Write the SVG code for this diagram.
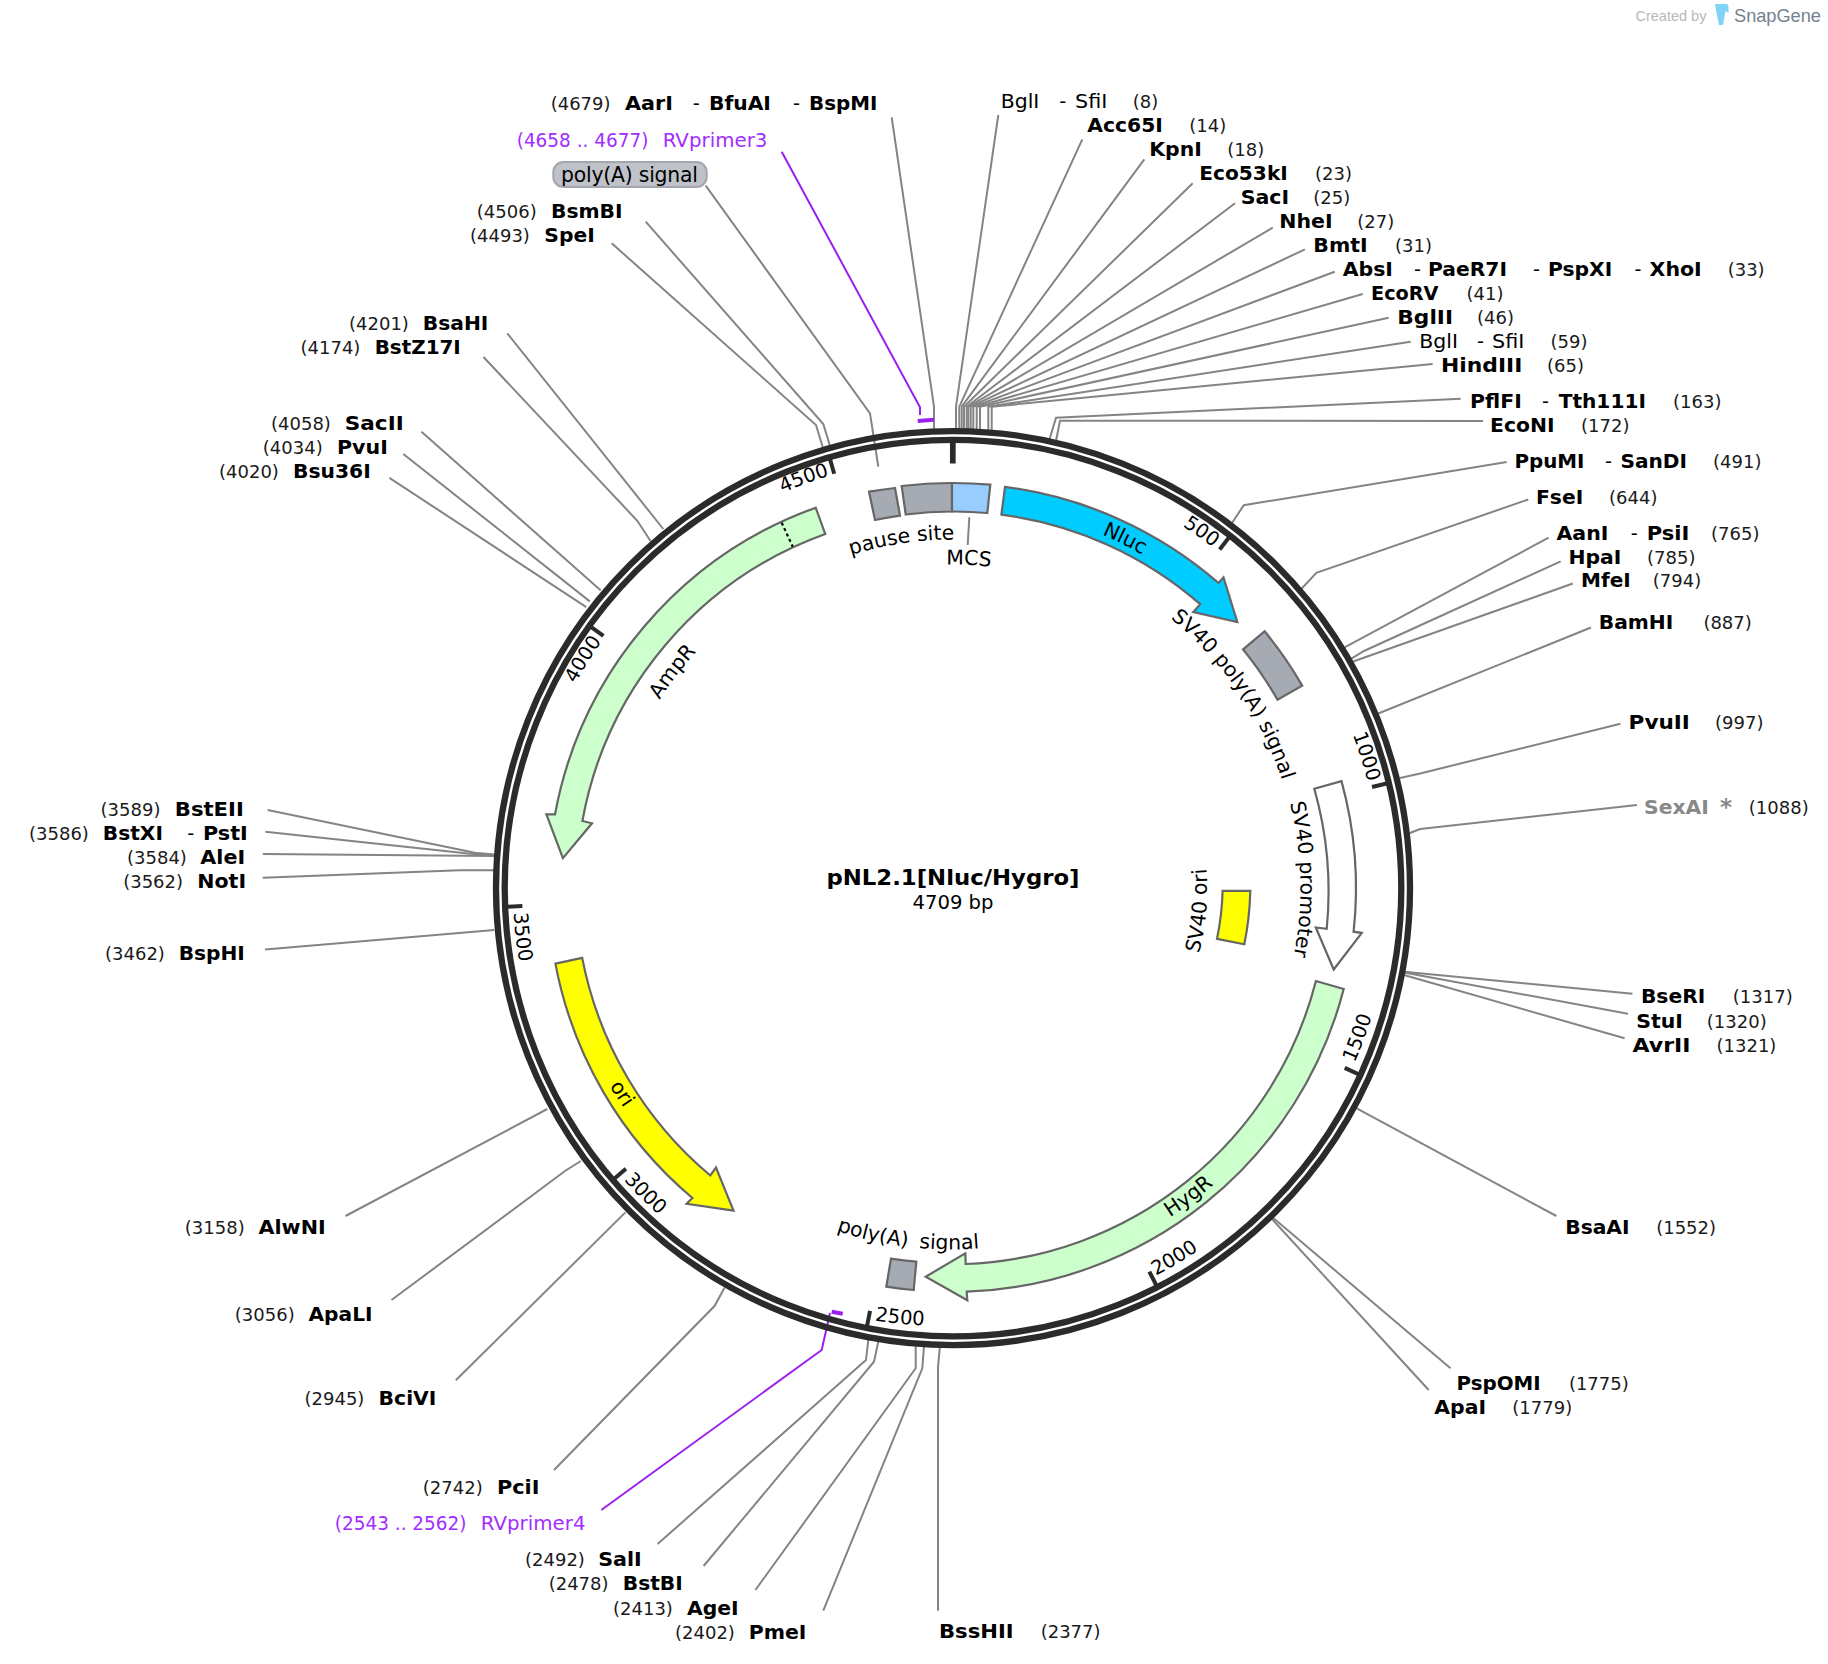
<svg xmlns="http://www.w3.org/2000/svg" width="1828" height="1664" viewBox="0 0 1828 1664">
<style>
text{font-family:"DejaVu Sans","Verdana",sans-serif;fill:#000}
.b{font-weight:700;font-size:19.4px}
.r{font-size:18px;fill:#1a1a1a}
.u{font-size:19.4px}
.v{font-size:19.2px;fill:#a22dff}
.f{font-size:20.4px}
.t{font-size:19.6px}
.c{fill:none;stroke:#848484;stroke-width:2}
.pc{fill:none;stroke:#9b20f0;stroke-width:2}
.ft{stroke:#666;stroke-width:2.2;stroke-linejoin:miter}
.grey{fill:#a6abb3}
.green{fill:#ccffcc}
.tk{stroke:#2b2b2b;stroke-width:4}
</style>
<defs>
<path id="a-pause" d="M851 555A348 348 0 0 1 954 539.5"/>
<path id="a-mcs" d="M945 564.6A324 324 0 0 1 992 566.9"/>
<path id="a-nluc" d="M1099.6 533.7A383 383 0 0 1 1144.5 555.8"/>
<path id="a-spa" d="M1171.2 619A346 346 0 0 1 1281.7 779.4"/>
<path id="a-spr" d="M1289.6 802A347.4 347.4 0 0 1 1293.5 957"/>
<path id="a-sori" d="M1199 953A254 254 0 0 0 1206.5 869"/>
<path id="a-hyg" d="M1168.3 1218.3A395 395 0 0 0 1215 1183.3"/>
<path id="a-ori" d="M608.5 1084A396 396 0 0 0 625.3 1110"/>
<path id="a-amp" d="M659.5 700A346 346 0 0 1 696.5 651.7"/>
<path id="a-pa" d="M833 1229.5A361.5 361.5 0 0 0 983 1248"/>
<path id="t500" d="M1181 525A428 428 0 0 1 1214.5 548.6"/>
<path id="t1000" d="M1352.6 734.1A428 428 0 0 1 1367.9 782.5"/>
<path id="t1500" d="M1354.1 1063.6A438 438 0 0 0 1371.9 1015.6"/>
<path id="t2000" d="M1155.2 1276A438 438 0 0 0 1199.2 1249.8"/>
<path id="t2500" d="M875 1320.5A439 439 0 0 0 924 1325.5"/>
<path id="t3000" d="M623.4 1179.5A440 440 0 0 0 659.7 1215.5"/>
<path id="t3500" d="M513.7 912A440 440 0 0 0 519.6 963.1"/>
<path id="t4000" d="M575.7 683.5A429 429 0 0 1 601.6 641.4"/>
<path id="t4500" d="M784 492.3A430 430 0 0 1 828 476.1"/>
</defs>
<rect width="1828" height="1664" fill="#fff"/>

<g id="connectors">
<polyline class="c" points="891.7,117.3 934,406.7 934,430"/>
<polyline class="c" points="705.7,185.7 870,413.3 878.3,466.7"/>
<polyline class="c" points="645.7,221.7 823.3,424 830,446"/>
<polyline class="c" points="611.7,243.3 816,425 822.7,447"/>
<polyline class="c" points="507.3,333.3 663.3,529"/>
<polyline class="c" points="483.5,357 637.5,521 650.5,541"/>
<polyline class="c" points="421.5,431.8 600.6,590.3"/>
<polyline class="c" points="403.3,454 589.8,601.4"/>
<polyline class="c" points="389.4,477.8 586.3,607.2"/>
<polyline class="c" points="267.6,810 474.8,852.8 494,854.5"/>
<polyline class="c" points="265.4,831.8 470.5,853.7 494,855"/>
<polyline class="c" points="262.8,854 494,856"/>
<polyline class="c" points="262.8,877.8 459.7,870.2 494,870.2"/>
<polyline class="c" points="265,949.6 494.4,930"/>
<polyline class="c" points="345.5,1216 547.3,1109"/>
<polyline class="c" points="391.5,1300 565,1171 580.8,1161"/>
<polyline class="c" points="455.8,1380.3 625.4,1212.4"/>
<polyline class="c" points="554,1470 714.7,1305.8 724.5,1287.8"/>
<polyline class="c" points="657.6,1544 866,1360 868.3,1340"/>
<polyline class="c" points="703.6,1566 874,1361.7 878.3,1341.7"/>
<polyline class="c" points="755.4,1590 915.7,1368.3 915.7,1346"/>
<polyline class="c" points="823.3,1610.7 922.3,1368.3 924,1346"/>
<polyline class="c" points="938,1610.7 938,1366.7 940,1346"/>
<polyline class="c" points="998.3,115 956,406.7 956,430"/>
<polyline class="c" points="1082.3,139.3 959.3,406.7 959.3,430"/>
<polyline class="c" points="1144.3,159.3 961.7,406.7 961.7,430"/>
<polyline class="c" points="1192.7,183.3 964,406.7 964,430"/>
<polyline class="c" points="1235,203.3 966.7,406.7 966.7,430"/>
<polyline class="c" points="1272.7,227.7 968.3,406.7 968.3,430"/>
<polyline class="c" points="1305,249.3 970.7,406.7 970.7,430"/>
<polyline class="c" points="1334.7,271.7 973.3,406.7 973.3,430"/>
<polyline class="c" points="1362.7,294 976.7,406.7 976.7,430"/>
<polyline class="c" points="1388.7,317.7 980,406.7 980,430"/>
<polyline class="c" points="1410.7,341.7 988.3,406.7 988.3,431"/>
<polyline class="c" points="1432.7,364 991.7,406.7 991.7,431"/>
<polyline class="c" points="1460.7,398.7 1056,417.7 1049.3,440"/>
<polyline class="c" points="1483,421 1060,420.7 1056,441"/>
<polyline class="c" points="1506.7,462 1243.8,505.2 1231.3,524"/>
<polyline class="c" points="1528.3,499.5 1316.4,572.8 1301.3,589"/>
<polyline class="c" points="1548.6,537.7 1344.6,647.4"/>
<polyline class="c" points="1560.7,561.4 1364,651 1351,658.8"/>
<polyline class="c" points="1572.8,583.5 1353.2,661.5"/>
<polyline class="c" points="1591,627.5 1378.3,713.5"/>
<polyline class="c" points="1620.4,723.8 1420.2,773.5 1400,778"/>
<polyline class="c" points="1637,805 1420.2,829 1408.5,833.5"/>
<polyline class="c" points="1632.5,993.7 1404,971.7"/>
<polyline class="c" points="1627.9,1013.7 1404,972.5"/>
<polyline class="c" points="1624.6,1038.3 1404,975"/>
<polyline class="c" points="1556.4,1216 1356.7,1108.3"/>
<polyline class="c" points="1450.5,1368.3 1271.8,1216.7"/>
<polyline class="c" points="1428.7,1390 1270.8,1217.7"/>
<polyline class="pc" points="781.7,151.7 920,407.3 920,415"/>
<polyline class="pc" points="601.3,1510 821.7,1350 830,1313"/>
<line class="c" x1="969.3" y1="517.3" x2="967.7" y2="545"/>
</g>

<g id="backbone" fill="none" stroke="#2b2b2b" stroke-width="6.3">
<circle cx="953" cy="888.1" r="457"/>
<circle cx="953" cy="888.1" r="448.3"/>
<line x1="952.8" y1="440" x2="952.8" y2="463.5" stroke-width="5.7"/>
<line class="tk" x1="953" y1="457" x2="953" y2="442" transform="rotate(38.22 953 888)"/>
<line class="tk" x1="953" y1="457" x2="953" y2="442" transform="rotate(76.45 953 888)"/>
<line class="tk" x1="953" y1="457" x2="953" y2="442" transform="rotate(114.67 953 888)"/>
<line class="tk" x1="953" y1="457" x2="953" y2="442" transform="rotate(152.9 953 888)"/>
<line class="tk" x1="953" y1="457" x2="953" y2="442" transform="rotate(191.1 953 888)"/>
<line class="tk" x1="953" y1="457" x2="953" y2="442" transform="rotate(229.36 953 888)"/>
<line class="tk" x1="953" y1="457" x2="953" y2="442" transform="rotate(267.6 953 888)"/>
<line class="tk" x1="953" y1="457" x2="953" y2="442" transform="rotate(305.8 953 888)"/>
<line class="tk" x1="953" y1="457" x2="953" y2="442" transform="rotate(344 953 888)"/>
</g>
<g id="ticklabels">
<text class="t"><textPath href="#t500" startOffset="50%" text-anchor="middle">500</textPath></text>
<text class="t"><textPath href="#t1000" startOffset="50%" text-anchor="middle">1000</textPath></text>
<text class="t"><textPath href="#t1500" startOffset="50%" text-anchor="middle">1500</textPath></text>
<text class="t"><textPath href="#t2000" startOffset="50%" text-anchor="middle">2000</textPath></text>
<text class="t"><textPath href="#t2500" startOffset="50%" text-anchor="middle">2500</textPath></text>
<text class="t"><textPath href="#t3000" startOffset="50%" text-anchor="middle">3000</textPath></text>
<text class="t"><textPath href="#t3500" startOffset="50%" text-anchor="middle">3500</textPath></text>
<text class="t"><textPath href="#t4000" startOffset="50%" text-anchor="middle">4000</textPath></text>
<text class="t"><textPath href="#t4500" startOffset="50%" text-anchor="middle">4500</textPath></text>
</g>

<g id="primer3-site"><line x1="917.7" y1="421" x2="934" y2="419.7" stroke="#9b20f0" stroke-width="4"/></g>
<g id="primer4-site"><line x1="831.7" y1="1311.7" x2="842.7" y2="1313.8" stroke="#9b20f0" stroke-width="4"/></g>

<g id="feature-pause-site">
<path class="ft grey" d="M869 491.7A404 404 0 0 1 895 488L900 515.7A376 376 0 0 0 875 520Z"/>
<text class="f"><textPath href="#a-pause" startOffset="50%" text-anchor="middle">pause site</textPath></text>
</g>
<g id="feature-grey-block"><path class="ft grey" d="M901.7 486A404.5 404.5 0 0 1 952 483L952 511.5A376 376 0 0 0 905.7 514.5Z"/></g>
<g id="feature-MCS">
<path class="ft" fill="#99ccff" d="M952 483A404.5 404.5 0 0 1 990.3 484.7L987.3 513A376 376 0 0 0 952 511.5Z"/>
<text class="f"><textPath href="#a-mcs" startOffset="50%" text-anchor="middle">MCS</textPath></text>
</g>
<g id="feature-Nluc">
<path class="ft" fill="#00ccff" d="M1005 486.9A404 404 0 0 1 1218.6 583L1223.5 577.4L1237.3 622L1193.3 612.1L1200.2 604.2A376 376 0 0 0 1001.4 514.6Z"/>
<text class="f"><textPath href="#a-nluc" startOffset="50%" text-anchor="middle">Nluc</textPath></text>
</g>
<g id="feature-SV40-polyA">
<path class="ft grey" d="M1264.6 631.3A404 404 0 0 1 1302.2 685.6L1277.5 699.7A375.5 375.5 0 0 0 1243 649.3Z"/>
<text class="f"><textPath href="#a-spa" startOffset="50%" text-anchor="middle">SV40 poly(A) signal</textPath></text>
</g>
<g id="feature-SV40-promoter">
<path class="ft" fill="#fff" d="M1341.5 781.1A403 403 0 0 1 1353.6 931.7L1361.8 932.8L1333.7 969.5L1315.8 927.5L1326.7 928.8A376 376 0 0 0 1314.3 788.7Z"/>
<text class="f"><textPath href="#a-spr" startOffset="50%" text-anchor="middle">SV40 promoter</textPath></text>
</g>
<g id="feature-SV40-ori">
<path class="ft" fill="#ffff00" d="M1222.6 890.8L1250.3 890.8A297.3 297.3 0 0 1 1244.3 944.3L1217 938.9A269.6 269.6 0 0 0 1222.6 890.8Z"/>
<text class="f"><textPath href="#a-sori" startOffset="50%" text-anchor="middle">SV40 ori</textPath></text>
</g>
<g id="feature-HygR">
<path class="ft green" d="M1343.7 989A404 404 0 0 1 966.7 1291.7L967.3 1300.3L925.7 1276.7L965.3 1253.3L965.7 1264A376 376 0 0 0 1315.9 981Z"/>
<text class="f"><textPath href="#a-hyg" startOffset="50%" text-anchor="middle">HygR</textPath></text>
</g>
<g id="feature-polyA-signal">
<path class="ft grey" d="M891 1258.7A376 376 0 0 0 916.3 1261.7L913.7 1290A404.5 404.5 0 0 1 886.3 1286.7Z"/>
<text class="f"><textPath href="#a-pa" startOffset="50%" text-anchor="middle" style="word-spacing:5px">poly(A) signal</textPath></text>
</g>
<g id="feature-ori">
<path class="ft" fill="#ffff00" d="M555.4 963.6A404.5 404.5 0 0 0 692.4 1198L686.6 1203.8L733.5 1210.6L716 1167.5L710.3 1175.5A376.8 376.8 0 0 1 582.2 957.9Z"/>
<text class="f"><textPath href="#a-ori" startOffset="50%" text-anchor="middle">ori</textPath></text>
</g>
<g id="feature-AmpR">
<path class="ft green" d="M815.7 507.7A404 404 0 0 0 555 814.4L546.4 814.4L562.9 858.1L592 823.3L582.4 821A376 376 0 0 1 825.3 534Z"/>
<line x1="781.7" y1="522.7" x2="792.7" y2="546.7" stroke="#000" stroke-width="2.2" stroke-dasharray="3 3"/>
<text class="f"><textPath href="#a-amp" startOffset="50%" text-anchor="middle">AmpR</textPath></text>
</g>

<g id="title">
<text x="953" y="885" text-anchor="middle" font-weight="700" font-size="21.5" textLength="253" lengthAdjust="spacingAndGlyphs">pNL2.1[Nluc/Hygro]</text>
<text x="953" y="909" text-anchor="middle" font-size="19.6">4709 bp</text>
</g>

<g id="label-polyA-box">
<rect x="553.3" y="162" width="153.4" height="25" rx="10" fill="#bfc3c9" stroke="#a3a7ad" stroke-width="2"/>
<text x="561" y="182.3" class="f" textLength="137" lengthAdjust="spacing">poly(A) signal</text>
</g>
<g id="label-RVprimer3"><text class="v" x="516.7" y="146.7" textLength="131.7" lengthAdjust="spacingAndGlyphs">(4658 .. 4677)</text><text class="v" x="662.7" y="146.7" textLength="104.7" lengthAdjust="spacingAndGlyphs">RVprimer3</text></g>
<g id="label-RVprimer4"><text class="v" x="334.8" y="1530.3" textLength="131.7" lengthAdjust="spacingAndGlyphs">(2543 .. 2562)</text><text class="v" x="480.8" y="1530.3" textLength="104.7" lengthAdjust="spacingAndGlyphs">RVprimer4</text></g>

<g id="site-4679"><text class="r" x="550.7" y="110">(4679)</text><text class="b" x="625" y="110" textLength="47.9" lengthAdjust="spacingAndGlyphs">AarI</text><text class="u" x="692.7" y="110">-</text><text class="b" x="709" y="110" textLength="61.9" lengthAdjust="spacingAndGlyphs">BfuAI</text><text class="u" x="793" y="110">-</text><text class="b" x="809" y="110" textLength="68.3" lengthAdjust="spacingAndGlyphs">BspMI</text></g>
<g id="site-4506"><text class="r" x="476.8" y="218">(4506)</text><text class="b" x="551" y="218" textLength="71.6" lengthAdjust="spacingAndGlyphs">BsmBI</text></g>
<g id="site-4493"><text class="r" x="470" y="242">(4493)</text><text class="b" x="544.3" y="242" textLength="50.4" lengthAdjust="spacingAndGlyphs">SpeI</text></g>
<g id="site-4201"><text class="r" x="349" y="330">(4201)</text><text class="b" x="422.8" y="330" textLength="65.6" lengthAdjust="spacingAndGlyphs">BsaHI</text></g>
<g id="site-4174"><text class="r" x="300.5" y="354">(4174)</text><text class="b" x="374.7" y="354" textLength="86.1" lengthAdjust="spacingAndGlyphs">BstZ17I</text></g>
<g id="site-4058"><text class="r" x="271" y="430">(4058)</text><text class="b" x="344.8" y="430" textLength="58.9" lengthAdjust="spacingAndGlyphs">SacII</text></g>
<g id="site-4034"><text class="r" x="262.8" y="454">(4034)</text><text class="b" x="337" y="454" textLength="50.8" lengthAdjust="spacingAndGlyphs">PvuI</text></g>
<g id="site-4020"><text class="r" x="219" y="478">(4020)</text><text class="b" x="293" y="478" textLength="77.7" lengthAdjust="spacingAndGlyphs">Bsu36I</text></g>
<g id="site-3589"><text class="r" x="100.6" y="815.7">(3589)</text><text class="b" x="174.8" y="815.7" textLength="69" lengthAdjust="spacingAndGlyphs">BstEII</text></g>
<g id="site-3586"><text class="r" x="29" y="839.8">(3586)</text><text class="b" x="102.8" y="839.8" textLength="60.1" lengthAdjust="spacingAndGlyphs">BstXI</text><text class="u" x="187.3" y="839.8">-</text><text class="b" x="203" y="839.8" textLength="44.8" lengthAdjust="spacingAndGlyphs">PstI</text></g>
<g id="site-3584"><text class="r" x="127" y="864">(3584)</text><text class="b" x="200.3" y="864" textLength="44.8" lengthAdjust="spacingAndGlyphs">AleI</text></g>
<g id="site-3562"><text class="r" x="123.2" y="888">(3562)</text><text class="b" x="197.3" y="888" textLength="48.8" lengthAdjust="spacingAndGlyphs">NotI</text></g>
<g id="site-3462"><text class="r" x="105" y="959.5">(3462)</text><text class="b" x="178.7" y="959.5" textLength="66.2" lengthAdjust="spacingAndGlyphs">BspHI</text></g>
<g id="site-3158"><text class="r" x="184.8" y="1234">(3158)</text><text class="b" x="258.5" y="1234" textLength="67.2" lengthAdjust="spacingAndGlyphs">AlwNI</text></g>
<g id="site-3056"><text class="r" x="234.8" y="1320.6">(3056)</text><text class="b" x="308.5" y="1320.6" textLength="64" lengthAdjust="spacingAndGlyphs">ApaLI</text></g>
<g id="site-2945"><text class="r" x="304.5" y="1404.5">(2945)</text><text class="b" x="378.6" y="1404.5" textLength="57.8" lengthAdjust="spacingAndGlyphs">BciVI</text></g>
<g id="site-2742"><text class="r" x="422.8" y="1494.4">(2742)</text><text class="b" x="496.9" y="1494.4" textLength="42.5" lengthAdjust="spacingAndGlyphs">PciI</text></g>
<g id="site-2492"><text class="r" x="525" y="1566.2">(2492)</text><text class="b" x="598.2" y="1566.2" textLength="43.6" lengthAdjust="spacingAndGlyphs">SalI</text></g>
<g id="site-2478"><text class="r" x="548.7" y="1590.4">(2478)</text><text class="b" x="622.8" y="1590.4" textLength="60" lengthAdjust="spacingAndGlyphs">BstBI</text></g>
<g id="site-2413"><text class="r" x="613" y="1614.7">(2413)</text><text class="b" x="687" y="1614.7" textLength="51.7" lengthAdjust="spacingAndGlyphs">AgeI</text></g>
<g id="site-2402"><text class="r" x="675" y="1638.5">(2402)</text><text class="b" x="748.7" y="1638.5" textLength="57.8" lengthAdjust="spacingAndGlyphs">PmeI</text></g>
<g id="site-2377"><text class="b" x="939" y="1638" textLength="74.6" lengthAdjust="spacingAndGlyphs">BssHII</text><text class="r" x="1040.7" y="1638">(2377)</text></g>

<g id="site-8"><text class="u" x="1000.7" y="108.3" textLength="38.7" lengthAdjust="spacingAndGlyphs">BglI</text><text class="u" x="1059.3" y="108.3">-</text><text class="u" x="1075" y="108.3" textLength="32.3" lengthAdjust="spacingAndGlyphs">SfiI</text><text class="r" x="1132.7" y="108.3">(8)</text></g>
<g id="site-14"><text class="b" x="1087.3" y="131.7" textLength="75.5" lengthAdjust="spacingAndGlyphs">Acc65I</text><text class="r" x="1189.3" y="131.7">(14)</text></g>
<g id="site-18"><text class="b" x="1149.3" y="155.7" textLength="52.5" lengthAdjust="spacingAndGlyphs">KpnI</text><text class="r" x="1227.3" y="155.7">(18)</text></g>
<g id="site-23"><text class="b" x="1199.3" y="180" textLength="88.5" lengthAdjust="spacingAndGlyphs">Eco53kI</text><text class="r" x="1315" y="180">(23)</text></g>
<g id="site-25"><text class="b" x="1240.7" y="204" textLength="48.4" lengthAdjust="spacingAndGlyphs">SacI</text><text class="r" x="1313.3" y="204">(25)</text></g>
<g id="site-27"><text class="b" x="1279.3" y="227.7" textLength="53.3" lengthAdjust="spacingAndGlyphs">NheI</text><text class="r" x="1357.3" y="227.7">(27)</text></g>
<g id="site-31"><text class="b" x="1313.3" y="251.7" textLength="54.3" lengthAdjust="spacingAndGlyphs">BmtI</text><text class="r" x="1395" y="251.7">(31)</text></g>
<g id="site-33"><text class="b" x="1342.7" y="276" textLength="50.3" lengthAdjust="spacingAndGlyphs">AbsI</text><text class="u" x="1414" y="276">-</text><text class="b" x="1428" y="276" textLength="79" lengthAdjust="spacingAndGlyphs">PaeR7I</text><text class="u" x="1533" y="276">-</text><text class="b" x="1548" y="276" textLength="64.2" lengthAdjust="spacingAndGlyphs">PspXI</text><text class="u" x="1634.5" y="276">-</text><text class="b" x="1649.6" y="276" textLength="52.1" lengthAdjust="spacingAndGlyphs">XhoI</text><text class="r" x="1727.7" y="276">(33)</text></g>
<g id="site-41"><text class="b" x="1371" y="300" textLength="67.5" lengthAdjust="spacingAndGlyphs">EcoRV</text><text class="r" x="1466.6" y="300">(41)</text></g>
<g id="site-46"><text class="b" x="1397.3" y="324" textLength="55.7" lengthAdjust="spacingAndGlyphs">BglII</text><text class="r" x="1477" y="324">(46)</text></g>
<g id="site-59"><text class="u" x="1419.3" y="348.3" textLength="38.7" lengthAdjust="spacingAndGlyphs">BglI</text><text class="u" x="1477" y="348.3">-</text><text class="u" x="1492" y="348.3" textLength="32.3" lengthAdjust="spacingAndGlyphs">SfiI</text><text class="r" x="1550.5" y="348.3">(59)</text></g>
<g id="site-65"><text class="b" x="1441" y="372.3" textLength="81.4" lengthAdjust="spacingAndGlyphs">HindIII</text><text class="r" x="1547" y="372.3">(65)</text></g>
<g id="site-163"><text class="b" x="1470" y="408" textLength="51.8" lengthAdjust="spacingAndGlyphs">PflFI</text><text class="u" x="1542" y="408">-</text><text class="b" x="1558.7" y="408" textLength="87.2" lengthAdjust="spacingAndGlyphs">Tth111I</text><text class="r" x="1673" y="408">(163)</text></g>
<g id="site-172"><text class="b" x="1490" y="431.8" textLength="64.5" lengthAdjust="spacingAndGlyphs">EcoNI</text><text class="r" x="1581" y="431.8">(172)</text></g>
<g id="site-491"><text class="b" x="1514.5" y="467.8" textLength="70" lengthAdjust="spacingAndGlyphs">PpuMI</text><text class="u" x="1605" y="467.8">-</text><text class="b" x="1620.4" y="467.8" textLength="66.7" lengthAdjust="spacingAndGlyphs">SanDI</text><text class="r" x="1713" y="467.8">(491)</text></g>
<g id="site-644"><text class="b" x="1536" y="504" textLength="47.2" lengthAdjust="spacingAndGlyphs">FseI</text><text class="r" x="1609" y="504">(644)</text></g>
<g id="site-765"><text class="b" x="1556.4" y="540" textLength="52" lengthAdjust="spacingAndGlyphs">AanI</text><text class="u" x="1630.8" y="540">-</text><text class="b" x="1646.8" y="540" textLength="42.6" lengthAdjust="spacingAndGlyphs">PsiI</text><text class="r" x="1711" y="540">(765)</text></g>
<g id="site-785"><text class="b" x="1568.5" y="564" textLength="52.9" lengthAdjust="spacingAndGlyphs">HpaI</text><text class="r" x="1647" y="564">(785)</text></g>
<g id="site-794"><text class="b" x="1581" y="587.4" textLength="49.7" lengthAdjust="spacingAndGlyphs">MfeI</text><text class="r" x="1652.8" y="587.4">(794)</text></g>
<g id="site-887"><text class="b" x="1598.8" y="629.4" textLength="74.5" lengthAdjust="spacingAndGlyphs">BamHI</text><text class="r" x="1703.4" y="629.4">(887)</text></g>
<g id="site-997"><text class="b" x="1628.6" y="728.8" textLength="61.3" lengthAdjust="spacingAndGlyphs">PvuII</text><text class="r" x="1715" y="728.8">(997)</text></g>
<g id="site-1088"><text class="b" x="1644" y="813.6" style="fill:#888" textLength="64.8" lengthAdjust="spacingAndGlyphs">SexAI</text><text class="b" x="1720" y="814.6" style="fill:#888;font-size:23px">*</text><text class="r" x="1748.8" y="813.6">(1088)</text></g>
<g id="site-1317"><text class="b" x="1640.9" y="1003.3" textLength="64.4" lengthAdjust="spacingAndGlyphs">BseRI</text><text class="r" x="1732.8" y="1003.3">(1317)</text></g>
<g id="site-1320"><text class="b" x="1636.2" y="1027.7" textLength="46.7" lengthAdjust="spacingAndGlyphs">StuI</text><text class="r" x="1706.8" y="1027.7">(1320)</text></g>
<g id="site-1321"><text class="b" x="1632.5" y="1051.7" textLength="58" lengthAdjust="spacingAndGlyphs">AvrII</text><text class="r" x="1716.5" y="1051.7">(1321)</text></g>
<g id="site-1552"><text class="b" x="1565.2" y="1234" textLength="64.4" lengthAdjust="spacingAndGlyphs">BsaAI</text><text class="r" x="1656.2" y="1234">(1552)</text></g>
<g id="site-1775"><text class="b" x="1456.5" y="1390" textLength="84.1" lengthAdjust="spacingAndGlyphs">PspOMI</text><text class="r" x="1568.9" y="1390">(1775)</text></g>
<g id="site-1779"><text class="b" x="1434.3" y="1414" textLength="51.8" lengthAdjust="spacingAndGlyphs">ApaI</text><text class="r" x="1512.3" y="1414">(1779)</text></g>

<g id="watermark">
<text x="1635.5" y="20.5" style="font-family:'Liberation Sans',sans-serif;font-size:14.5px;fill:#b9b9b9">Created by</text>
<path d="M1715 4L1726 4Q1728.5 4 1728.5 7L1728.5 13L1725.5 11L1723 25L1719 25L1716.5 13Z" fill="#7fd3f7"/>
<text x="1734" y="21.5" style="font-family:'Liberation Sans',sans-serif;font-size:18.2px;fill:#75818d">SnapGene</text>
</g>
</svg>
